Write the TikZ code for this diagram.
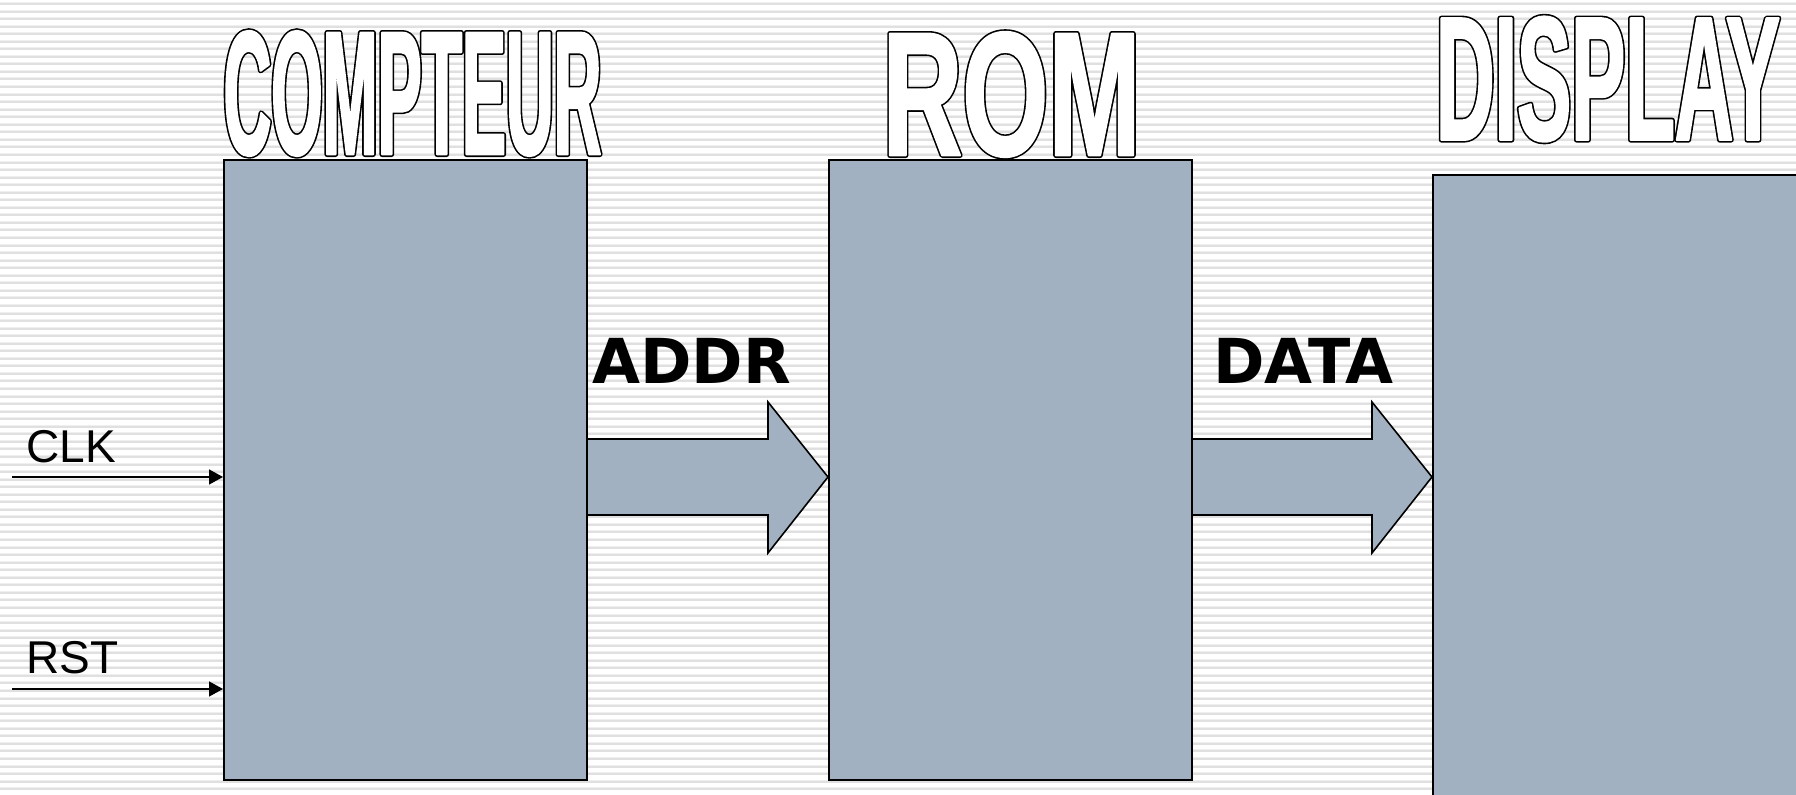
\documentclass[tikz,border=0pt]{standalone}
\usepackage{fontspec}
\usetikzlibrary{arrows.meta,fit,calc}
\newfontfamily\labfont{Liberation Sans}
\newfontfamily\busfont{DejaVu Sans}
\newfontfamily\ttlcnt[FakeStretch=0.373]{Liberation Sans}
\newfontfamily\ttlrom[FakeStretch=0.625]{Liberation Sans}
\newfontfamily\ttldsp[FakeStretch=0.458]{Liberation Sans}
% hollow lettering: a black stroke underneath, then the glyphs filled and
% stroked in white on top, leaving a thin black rim
\newcommand\hollowtext[1]{%
  \rlap{\special{pdf:literal direct 2 Tr 1 j 2.6 w 0 G 0 g}#1}%
  \special{pdf:literal direct 2 Tr 1 j 1.0 w 1 G 1 g}#1%
  \special{pdf:literal direct 0 Tr 0 j 0 g 0 G}}
\definecolor{blockfill}{HTML}{A2B1C1}
\definecolor{stripedark}{HTML}{E0E0E0}
\definecolor{stripelight}{HTML}{EFEFEF}
\begin{document}
\begin{tikzpicture}[x=0.5pt,y=-0.5pt,
  block/.style={draw=black,line width=1pt,fill=blockfill,inner sep=0pt},
  blockarrow/.style={draw=black,line width=0.8pt,fill=blockfill,line join=miter},
  sig/.style={draw=black,line width=0.75pt,-{Triangle[length=7pt,width=7.5pt]}},
  lbl/.style={inner sep=0pt,anchor=base west,font=\labfont\fontsize{23}{27}\selectfont},
  buslbl/.style={inner sep=0pt,anchor=base west,font=\busfont\bfseries\fontsize{31}{35}\selectfont},
  ttl/.style={inner sep=0pt,anchor=base}]
\useasboundingbox (0,0) rectangle (1796,795);
% striped background
\fill[white] (0,0) rectangle (1796,795);
\foreach \k in {0,...,105}{
  \fill[stripelight] (0,{2+7.55*\k}) rectangle (1796,{3+7.55*\k});
  \fill[stripedark] (0,{3+7.55*\k}) rectangle (1796,{5+7.55*\k});
}
% blocks
\node[block,fit={(224,160) (587,780)}] (cnt) {};
\node[block,fit={(829,160) (1192,780)}] (rom) {};
\node[block,fit={(1433,175) (1812,812)}] (dsp) {};
% block titles
\node[ttl] (tcnt) at (412.5,154.4) {\ttlcnt\bfseries\fontsize{88.5}{89}\selectfont\hollowtext{COMPTEUR}};
\node[ttl] (trom) at (1011.5,155.4) {\ttlrom\bfseries\fontsize{88.5}{89}\selectfont\hollowtext{ROM}};
\node[ttl] (tdsp) at (1608,140) {\ttldsp\bfseries\fontsize{88.5}{89}\selectfont\hollowtext{DISPLAY}};
% bus arrows
\coordinate (a1s) at ($(cnt.east)+(0,7)$);
\coordinate (a1t) at (rom.west |- a1s);
\filldraw[blockarrow] ($(a1s)+(0,-38)$) -- ($(a1t)+(-60,-38)$) -- ($(a1t)+(-60,-75)$) -- (a1t)
  -- ($(a1t)+(-60,76)$) -- ($(a1t)+(-60,38)$) -- ($(a1s)+(0,38)$);
\coordinate (a2s) at ($(rom.east)+(0,7)$);
\coordinate (a2t) at (dsp.west |- a2s);
\filldraw[blockarrow] ($(a2s)+(0,-38)$) -- ($(a2t)+(-60,-38)$) -- ($(a2t)+(-60,-75)$) -- (a2t)
  -- ($(a2t)+(-60,76)$) -- ($(a2t)+(-60,38)$) -- ($(a2s)+(0,38)$);
\node[buslbl] (addr) at (592,384) {ADDR};
\node[buslbl] (data) at (1213,384) {DATA};
% control inputs
\coordinate (clkin) at (12,477);
\coordinate (rstin) at (12,689);
\draw[sig] (clkin) -- (clkin -| cnt.west);
\draw[sig] (rstin) -- (rstin -| cnt.west);
\node[lbl] (clk) at (26,463) {CLK};
\node[lbl] (rst) at (26,674) {RST};
\end{tikzpicture}
\end{document}
